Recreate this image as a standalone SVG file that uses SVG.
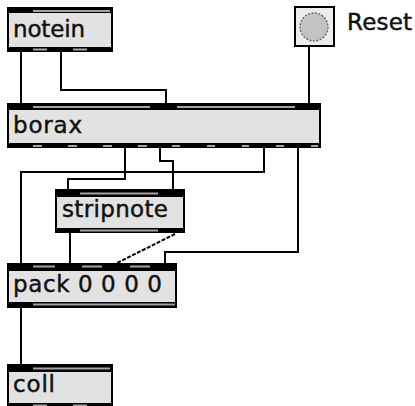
<svg xmlns="http://www.w3.org/2000/svg" width="415" height="406" viewBox="0 0 415 406">
  <style>
    .frame { fill: #000; }
    .body { fill: #e2e2e2; }
    .gap { fill: #a4a4a4; }
    .label { font-family: "DejaVu Sans", "Liberation Sans", sans-serif; font-size: 23px; fill: #111; stroke: #111; stroke-width: 0.45; }
    .cord { fill: none; stroke: #000; stroke-width: 2; }
    .bangbox { fill: #ececec; stroke: #000; stroke-width: 2; }
    .bangdot { fill: #c2c2c2; stroke: #6a6a6a; stroke-width: 1.4; stroke-dasharray: 2 1.5; }
  </style>

  <!-- patch cords -->
  <g id="connectors">
    <path class="cord" d="M21 52 V103"/>
    <path class="cord" d="M61 52 V90 H166 V103"/>
    <path class="cord" d="M309 46 V103"/>
    <path class="cord" d="M125 148 V179 H68 V189"/>
    <path class="cord" d="M160 148 V161 H173 V189"/>
    <path class="cord" d="M264 148 V172 H21 V263"/>
    <path class="cord" d="M298 148 V252 H165 V263"/>
    <path class="cord" d="M70 233 V263"/>
    <path class="cord" d="M175 234 L117 263" stroke-dasharray="4 1.5"/>
    <path class="cord" d="M21 308 V364"/>
  </g>

  <!-- notein -->
  <g id="notein">
    <rect class="frame" x="7" y="7" width="106" height="45"/>
    <rect class="body" x="9" y="13" width="102" height="34"/>
    <rect class="gap" x="33" y="10" width="77" height="2"/>
    <rect class="gap" x="33" y="48.5" width="14" height="2"/>
    <rect class="gap" x="73" y="48.5" width="14" height="2"/>
    <text class="label" x="13" y="37" textLength="72" lengthAdjust="spacing">notein</text>
  </g>

  <!-- bang with its comment -->
  <g id="reset">
    <rect class="bangbox" x="295" y="7" width="39" height="39"/>
    <circle class="bangdot" cx="314" cy="27" r="14"/>
    <text class="label" x="347" y="30" textLength="65" lengthAdjust="spacing">Reset</text>
  </g>

  <!-- borax -->
  <g id="borax">
    <rect class="frame" x="7" y="103" width="314" height="45"/>
    <rect class="body" x="9" y="110" width="310" height="33"/>
    <rect class="gap" x="33" y="106" width="117" height="2"/>
    <rect class="gap" x="177" y="106" width="118" height="2"/>
    <rect class="gap" x="33" y="145" width="9" height="2"/>
    <rect class="gap" x="68" y="145" width="9" height="2"/>
    <rect class="gap" x="103" y="145" width="9" height="2"/>
    <rect class="gap" x="138" y="145" width="9" height="2"/>
    <rect class="gap" x="172" y="145" width="8" height="2"/>
    <rect class="gap" x="207" y="145" width="8" height="2"/>
    <rect class="gap" x="242" y="145" width="7" height="2"/>
    <rect class="gap" x="276" y="145" width="8" height="2"/>
    <rect class="gap" x="311" y="145" width="7" height="2"/>
    <text class="label" x="13" y="132.5" textLength="69" lengthAdjust="spacing">borax</text>
  </g>

  <!-- stripnote -->
  <g id="stripnote">
    <rect class="frame" x="55" y="189" width="130" height="44"/>
    <rect class="body" x="57" y="197" width="126" height="31"/>
    <rect class="gap" x="80" y="192.5" width="78" height="2"/>
    <rect class="gap" x="80" y="229.5" width="78" height="2"/>
    <text class="label" x="62" y="216.5" textLength="106" lengthAdjust="spacing">stripnote</text>
  </g>

  <!-- pack 0 0 0 0 -->
  <g id="pack">
    <rect class="frame" x="7" y="263" width="170" height="45"/>
    <rect class="body" x="9" y="271" width="166" height="31"/>
    <rect class="gap" x="33" y="265.5" width="22" height="2"/>
    <rect class="gap" x="82" y="265.5" width="20" height="2"/>
    <rect class="gap" x="130" y="265.5" width="20" height="2"/>
    <rect class="gap" x="33" y="303.5" width="142" height="2"/>
    <text class="label" x="13" y="292" textLength="149" lengthAdjust="spacing">pack 0 0 0 0</text>
  </g>

  <!-- coll -->
  <g id="coll">
    <rect class="frame" x="7" y="364" width="106" height="45"/>
    <rect class="body" x="9" y="372" width="102" height="31"/>
    <rect class="gap" x="33" y="367.5" width="77" height="2"/>
    <rect class="gap" x="33" y="404.5" width="14" height="2"/>
    <rect class="gap" x="73" y="404.5" width="14" height="2"/>
    <text class="label" x="13" y="392" textLength="42" lengthAdjust="spacing">coll</text>
  </g>
</svg>
